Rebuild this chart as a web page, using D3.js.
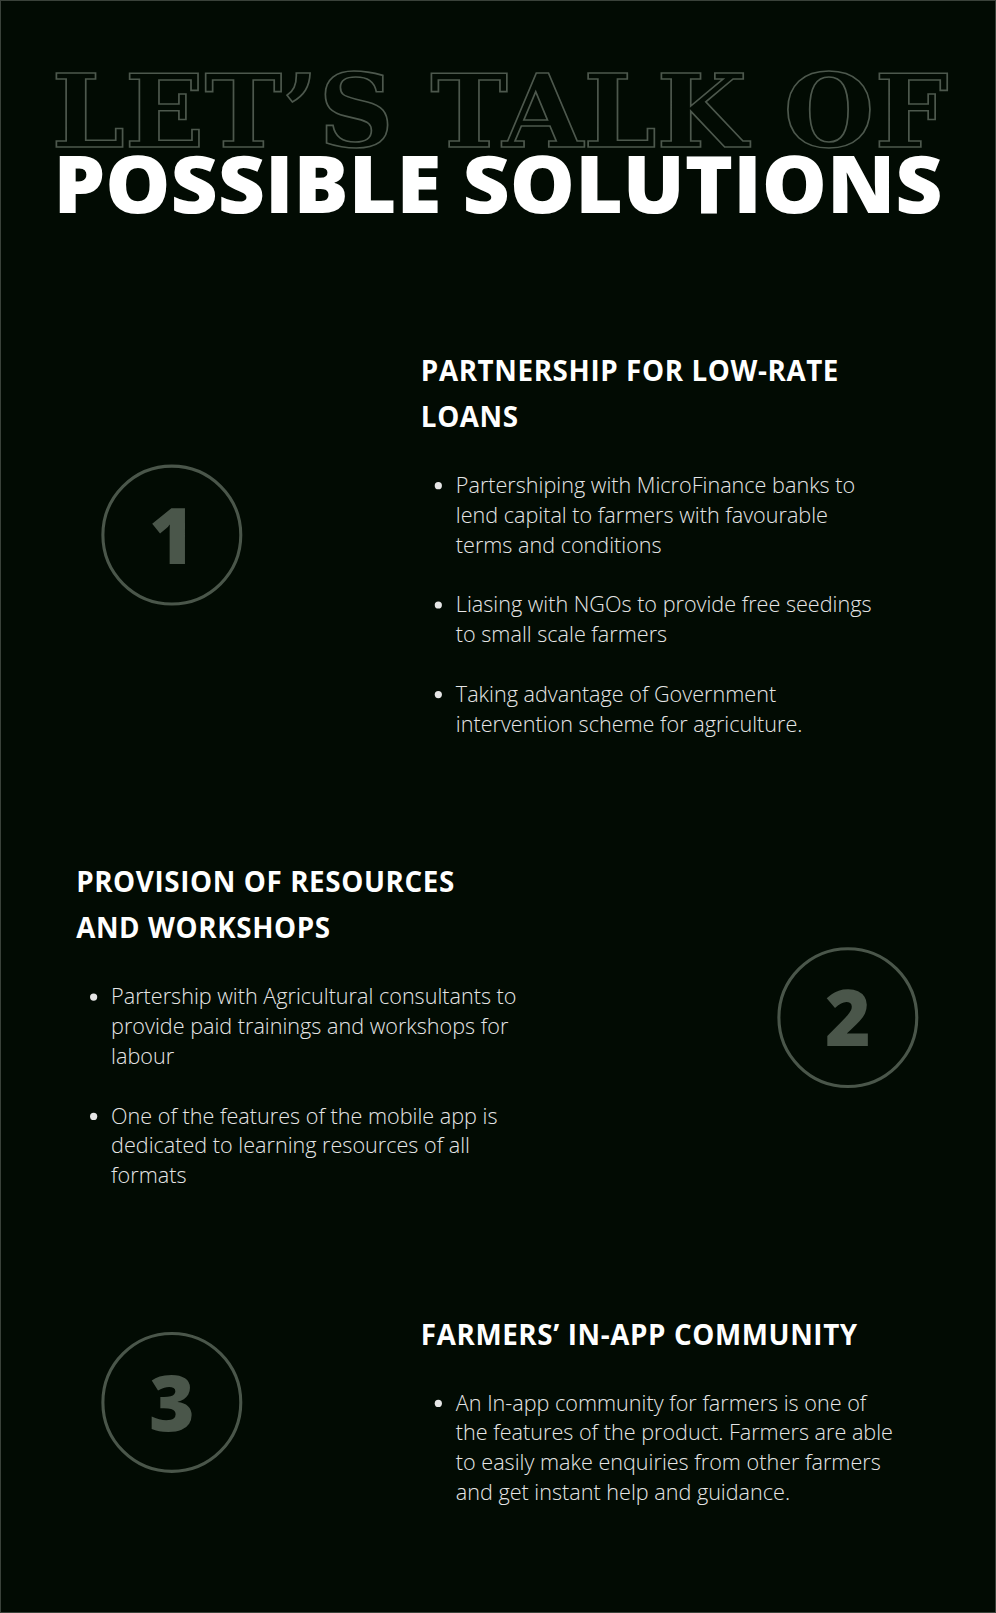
<!DOCTYPE html>
<html><head><meta charset="utf-8">
<script src="https://cdn.jsdelivr.net/npm/d3@7"></script>
<style>body{margin:0;background:#020b03;}</style>
</head><body><div id="page"></div>
<script>
// Content
const numbers = ["1", "2", "3"];
const headings = [
    ["PARTNERSHIP FOR LOW-RATE", "LOANS"],
    ["PROVISION OF RESOURCES", "AND WORKSHOPS"],
    ["FARMERS’ IN-APP COMMUNITY"]
];
const bullets = [
    [
        ["Partershiping with MicroFinance banks to", "lend capital to farmers with favourable", "terms and conditions"],
        ["Liasing with NGOs to provide free seedings", "to small scale farmers"],
        ["Taking advantage of Government", "intervention scheme for agriculture."]
    ],
    [
        ["Partership with Agricultural consultants to", "provide paid trainings and workshops for", "labour"],
        ["One of the features of the mobile app is", "dedicated to learning resources of all", "formats"]
    ],
    [
        ["An In-app community for farmers is one of", "the features of the product. Farmers are able", "to easily make enquiries from other farmers", "and get instant help and guidance."]
    ]
];

const width = 996, height = 1613;
const k = 996 / 968; // layout measured on a 968-wide view
const layout = [
    { cx: 167, cy: 520, tx: 409, hy: 370 },
    { cx: 824, cy: 989, tx: 74, hy: 867 },
    { cx: 167, cy: 1363, tx: 409, hy: 1307 }
];
const circleColor = "#4a564a";

const svg = d3.select("#page").append("svg")
    .attr("width", width).attr("height", height);

svg.append("rect").attr("width", width).attr("height", height)
    .attr("fill", "#020b03").attr("stroke", "#3a423a").attr("stroke-width", 2);

const root = svg.append("g").attr("transform", `scale(${k})`);

// Title
root.append("text")
    .attr("x", 50).attr("y", 143)
    .attr("textLength", 872).attr("lengthAdjust", "spacingAndGlyphs")
    .attr("fill", "none").attr("stroke", "#4d584d").attr("stroke-width", 1.6)
    .style("font-family", "DejaVu Serif").style("font-weight", "bold")
    .style("font-size", "98px")
    .text("LET’S TALK OF");

root.append("text")
    .attr("x", 52).attr("y", 207)
    .attr("textLength", 864).attr("lengthAdjust", "spacingAndGlyphs")
    .attr("fill", "#ffffff")
    .style("font-family", "Open Sans").style("font-weight", "800")
    .style("font-size", "78px")
    .text("POSSIBLE SOLUTIONS");

const groups = root.selectAll("g.section")
    .data(layout)
    .enter().append("g").attr("class", "section");

groups.append("circle")
    .attr("cx", d => d.cx).attr("cy", d => d.cy).attr("r", 67)
    .attr("fill", "none").attr("stroke", circleColor).attr("stroke-width", 3);

groups.append("text")
    .attr("x", d => d.cx).attr("y", d => d.cy + 28)
    .attr("text-anchor", "middle").attr("fill", circleColor)
    .style("font-family", "Open Sans").style("font-weight", "800")
    .style("font-size", "76px")
    .text((d, i) => numbers[i]);

groups.each(function (d, i) {
    const g = d3.select(this);
    headings[i].forEach((line, j) => {
        g.append("text")
            .attr("x", d.tx).attr("y", d.hy + j * 45)
            .attr("fill", "#ffffff")
            .style("font-family", "Open Sans").style("font-weight", "700")
            .style("font-size", "27px").style("letter-spacing", "0.6px")
            .text(line);
    });
    let y = d.hy + (headings[i].length - 1) * 45 + 100 - (headings[i].length - 1) * 0;
    y = d.hy + (headings[i].length - 1) * 45 + 64;
    bullets[i].forEach(item => {
        g.append("circle")
            .attr("cx", d.tx + 17).attr("cy", y - 7).attr("r", 3.5)
            .attr("fill", "#e6e6e6");
        item.forEach((line, n) => {
            g.append("text")
                .attr("x", d.tx + 34).attr("y", y + n * 29)
                .attr("fill", "#e6e6e6")
                .style("font-family", "Open Sans").style("font-weight", "300")
                .style("font-size", "21px")
                .text(line);
        });
        y += item.length * 29 + 29;
    });
});
</script>
</body></html>
